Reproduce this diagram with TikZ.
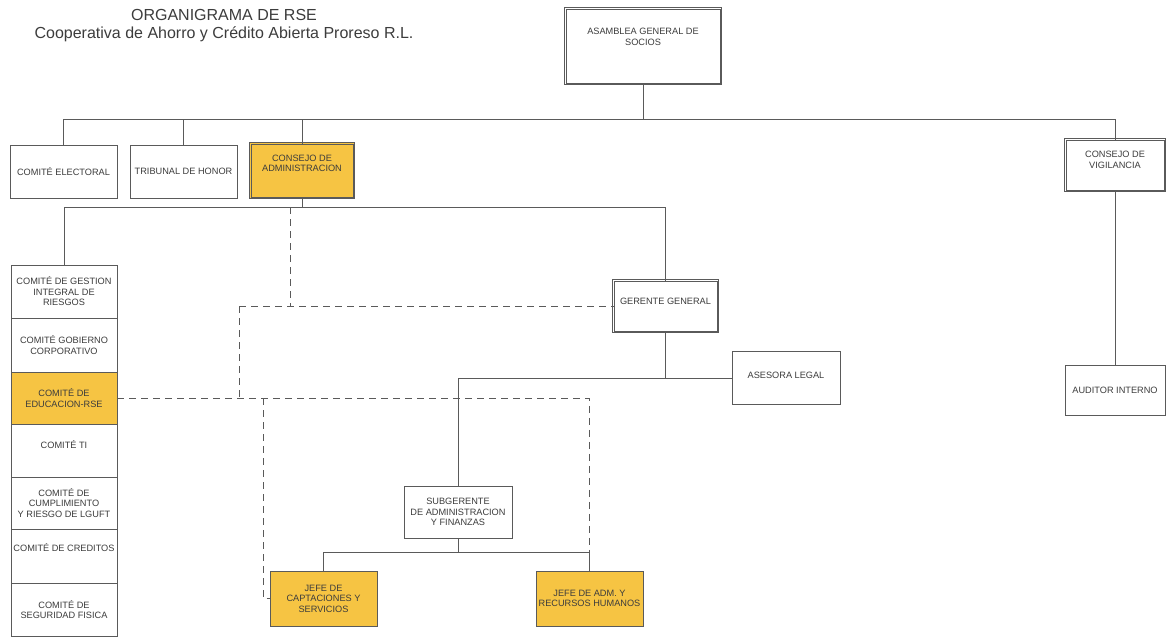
\documentclass[tikz,border=0pt]{standalone}
\usepackage{fontspec}
\setmainfont{Liberation Sans}
\usepackage{xcolor}
\usetikzlibrary{arrows}
\definecolor{linea}{HTML}{5A5A5A}
\definecolor{texto}{HTML}{3C3C3C}
\definecolor{amarillo}{HTML}{F6C443}
\tikzset{>=latex}
\tikzset{
  caja/.style={draw=linea, line width=0.6pt, fill=white, minimum width=107pt,
    minimum height=53pt, inner sep=1pt, align=center, text=texto,
    font=\fontsize{9.2}{10.5}\selectfont},
  doble/.style={preaction={draw=linea, line width=4pt},
    preaction={draw=#1, line width=2.8pt}},
  doble/.default=white,
  resaltada/.style={fill=amarillo},
  arriba/.style={text depth=#1},
  conector/.style={draw=linea, line width=0.6pt},
  punteado/.style={conector, dash pattern=on 7pt off 5pt},
  titulo/.style={text=texto, font=\fontsize{16}{19}\selectfont}
}

\begin{document}
\begin{tikzpicture}[x=1pt,y=-1pt]
  \useasboundingbox (0,0) rectangle (1167,638);
  \node[titulo] (tit1) at (224,15) {ORGANIGRAMA DE RSE};
  \node[titulo] (tit2) at (224,34) {Cooperativa de Ahorro y Crédito Abierta Proreso R.L.};

  % nivel superior
  \node[caja,doble,arriba=18pt,minimum width=154pt,minimum height=74pt] (asamblea) at (643,46) {ASAMBLEA GENERAL DE\\SOCIOS};
  \node[caja] (electoral) at (63.5,171.5) {COMITÉ ELECTORAL};
  \node[caja] (tribunal) at (183.5,171.5) {TRIBUNAL DE HONOR};
  \node[caja,doble=amarillo,resaltada,arriba=14pt,minimum width=102pt,minimum height=53pt] (consejo) at (302,170.5) {CONSEJO DE\\ADMINISTRACION};
  \node[caja,doble,arriba=10pt,minimum width=98pt,minimum height=50pt] (vigilancia) at (1115,165) {CONSEJO DE\\VIGILANCIA};
  \node[caja,minimum width=100pt,minimum height=50pt] (auditor) at (1115,390) {AUDITOR INTERNO};

  % comites
  \def\cw{106pt}
  \node[caja,minimum width=\cw,minimum height=53pt] (gestion) at (64,291.5) {COMITÉ DE GESTION\\INTEGRAL DE\\RIESGOS};
  \node[caja,minimum width=\cw,minimum height=54pt] (gobierno) at (64,345) {COMITÉ GOBIERNO\\CORPORATIVO};
  \node[caja,resaltada,minimum width=\cw,minimum height=52pt] (educacion) at (64,398) {COMITÉ DE\\EDUCACION-RSE};
  \node[caja,arriba=12pt,minimum width=\cw,minimum height=53pt] (ti) at (64,450.5) {COMITÉ TI};
  \node[caja,minimum width=\cw,minimum height=52pt] (cumplimiento) at (64,503) {COMITÉ DE\\CUMPLIMIENTO\\Y RIESGO DE LGUFT};
  \node[caja,arriba=18pt,minimum width=\cw,minimum height=54pt] (creditos) at (64,556) {COMITÉ DE CREDITOS};
  \node[caja,minimum width=\cw,minimum height=53pt] (seguridad) at (64,609.5) {COMITÉ DE\\SEGURIDAD FISICA};

  % gerencia
  \node[caja,doble,arriba=10pt,minimum width=103pt,minimum height=50pt] (gerente) at (665.5,306) {GERENTE GENERAL};
  \node[caja,arriba=6pt,minimum width=108pt] (asesora) at (786,378) {ASESORA LEGAL};
  \node[caja,minimum width=108pt,minimum height=52pt] (subgerente) at (458,512) {SUBGERENTE\\DE ADMINISTRACION\\Y FINANZAS};
  \node[caja,resaltada,minimum height=55pt] (captaciones) at (323.5,598.5) {JEFE DE\\CAPTACIONES Y\\SERVICIOS};
  \node[caja,resaltada,minimum height=55pt] (rrhh) at (589.5,598.5) {JEFE DE ADM. Y\\RECURSOS HUMANOS};

  \coordinate (b1) at (643,119);
  \coordinate (b2) at (302,207);
  \coordinate (b3) at (665.5,378);
  \coordinate (b4) at (458,552);
  \coordinate (d1) at (290,207);
  \coordinate (d2) at (239,306);
  \coordinate (d4) at (263,398);

  % lineas continuas
  \draw[conector] (asamblea) -- (b1);
  \draw[conector] (electoral.north) -- (electoral.north |- b1) -- (b1 -| vigilancia.north) -- (vigilancia.north);
  \draw[conector] (tribunal.north) -- (tribunal.north |- b1);
  \draw[conector] (consejo.north) -- (consejo.north |- b1);
  \draw[conector] (vigilancia) -- (auditor);
  \draw[conector] (consejo.south) -- (b2);
  \draw[conector] (gestion.north) -- (gestion.north |- b2) -- (b2 -| gerente.north) -- (gerente.north);
  \draw[conector] (gerente.south) -- (b3);
  \draw[conector] (subgerente.north) -- (subgerente.north |- b3) -- (asesora.west);
  \draw[conector] (subgerente.south) -- (b4);
  \draw[conector] (captaciones.north) -- (captaciones.north |- b4) -- (b4 -| rrhh.north) -- (rrhh.north);

  % lineas punteadas
  \draw[punteado] (d1) -- (d1 |- d2);
  \draw[punteado] (d2) -- (gerente.west);
  \draw[punteado] (d2) -- (d2 |- educacion.east);
  \draw[punteado] (educacion.east) -- (educacion.east -| rrhh.north) -- (rrhh.north |- b4);
  \draw[punteado] (d4) |- (captaciones.west);
\end{tikzpicture}
\end{document}
